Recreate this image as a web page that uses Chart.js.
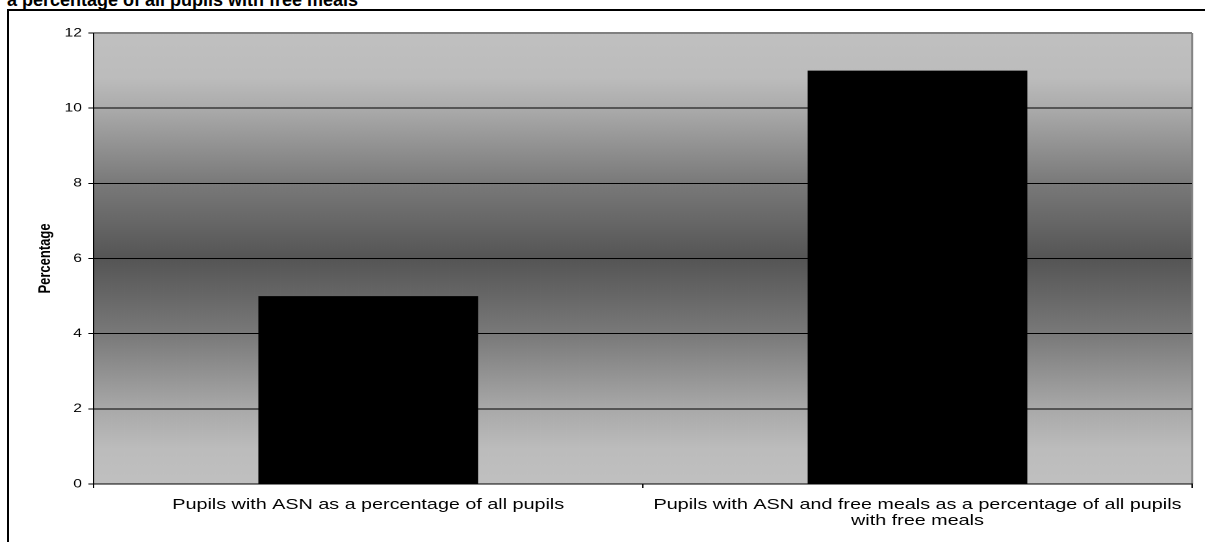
<!DOCTYPE html>
<html><head><meta charset="utf-8">
<script src="https://cdn.jsdelivr.net/npm/chart.js@4.4.0/dist/chart.umd.min.js"></script>
<style>
html,body{margin:0;padding:0;background:#fff;overflow:hidden;width:1205px;height:542px}
#frame{position:absolute;left:7px;top:9px;width:2000px;height:1000px;border-left:2px solid #000;border-top:2px solid #000;box-sizing:border-box}
#title{position:absolute;left:7px;top:-9px;font:bold 18px 'Liberation Sans',Arial,sans-serif;line-height:18px;white-space:nowrap;color:#000}
#wrap{position:absolute;left:0;top:0;width:927px;height:542px;transform:scaleX(1.3);transform-origin:0 0}
</style></head><body>
<div id="frame"></div>
<div id="title">a percentage of all pupils with free meals</div>
<div id="wrap"><canvas id="c" width="927" height="542"></canvas></div>
<script>
const categories = [
  ["Pupils with ASN as a percentage of all pupils"],
  ["Pupils with ASN and free meals as a percentage of all pupils", "with free meals"]
];
const values = [5, 11];
const yTickValues = [0, 2, 4, 6, 8, 10, 12];
const yAxisTitle = "Percentage";

Chart.defaults.font.family = "'Liberation Sans', Arial, sans-serif";
Chart.defaults.color = "#000";

const plotBg = {
  id: "plotBg",
  beforeDraw(chart) {
    const { ctx, chartArea } = chart;
    if (!chartArea) return;
    const { left, top, right, bottom } = chartArea;
    const g = ctx.createLinearGradient(0, top, 0, bottom);
    g.addColorStop(0, "#c0c0c0");
    g.addColorStop(0.1, "#bcbcbc");
    g.addColorStop(0.17, "#aaaaaa");
    g.addColorStop(0.33, "#7a7a7a");
    g.addColorStop(0.5, "#555555");
    g.addColorStop(0.67, "#7a7a7a");
    g.addColorStop(0.83, "#a8a8a8");
    g.addColorStop(0.92, "#bcbcbc");
    g.addColorStop(1, "#c0c0c0");
    ctx.save();
    ctx.fillStyle = g;
    ctx.fillRect(left, top, right - left, bottom - top);
    ctx.strokeStyle = "#808080";
    ctx.lineWidth = 1.5;
    ctx.beginPath();
    ctx.moveTo(right, top);
    ctx.lineTo(right, bottom);
    ctx.stroke();
    ctx.restore();
  }
};

new Chart(document.getElementById("c"), {
  type: "bar",
  data: {
    labels: categories,
    datasets: [{
      data: values,
      backgroundColor: "#000",
      borderWidth: 0,
      barPercentage: 0.4,
      categoryPercentage: 1.0
    }]
  },
  options: {
    responsive: false,
    animation: false,
    devicePixelRatio: 2,
    layout: { padding: { left: 0, right: 10, top: 33, bottom: 0 } },
    plugins: { legend: { display: false }, tooltip: { enabled: false }, title: { display: false } },
    scales: {
      x: {
        grid: { display: true, drawOnChartArea: false, drawTicks: true, tickLength: 4, color: "#000", offset: true },
        border: { display: true, color: "#000", width: 1 },
        ticks: { font: { size: 15.2, lineHeight: 16 / 15.2 }, color: "#000", padding: 9, maxRotation: 0, minRotation: 0, autoSkip: false },
        afterFit(s) { s.height = 58; }
      },
      y: {
        min: 0,
        max: 12,
        afterBuildTicks(s) { s.ticks = yTickValues.map(v => ({ value: v })); },
        grid: {
          color: c => (c.tick && c.tick.value === 12 ? "#808080" : "#000"),
          lineWidth: c => (c.tick && c.tick.value === 12 ? 2 : 1),
          tickLength: 4,
          drawTicks: true
        },
        border: { display: true, color: "#000", width: 1 },
        ticks: { font: { size: 12 }, color: "#000", padding: 5 },
        title: { display: true, text: yAxisTitle, font: { size: 13, weight: "bold" }, color: "#000", padding: { top: 27, bottom: 0 } },
        afterFit(s) { s.width = 72; }
      }
    }
  },
  plugins: [plotBg]
});
</script>
</body></html>
